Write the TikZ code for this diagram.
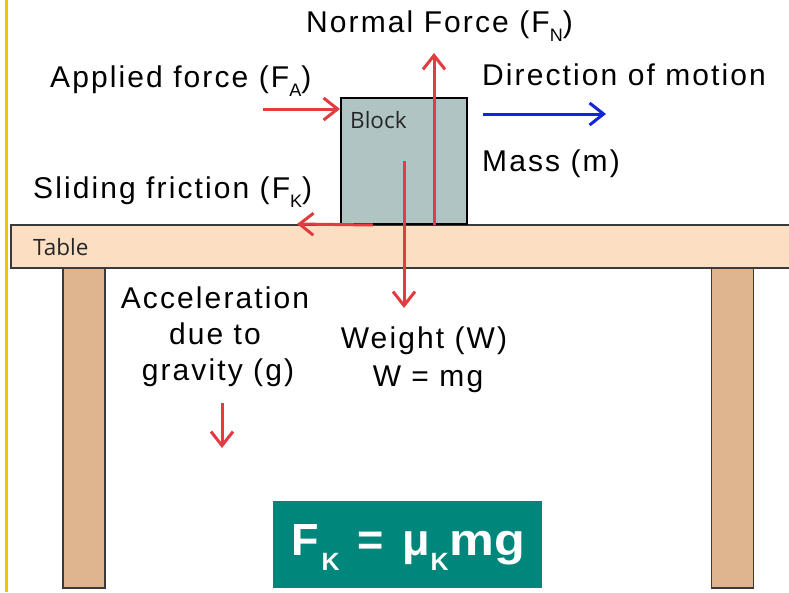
\documentclass[tikz,border=0pt]{standalone}
\usepackage{graphicx}
\usepackage{fontspec}
\setmainfont{Liberation Sans}
\newfontfamily\labfont[LetterSpace=7]{Liberation Sans}
\newfontfamily\smallfont{Open Sans}
\usetikzlibrary{arrows.meta}
\definecolor{arrred}{HTML}{E23B40}
\definecolor{arrblue}{HTML}{1424DC}
\definecolor{tabletop}{HTML}{FCDFC2}
\definecolor{legcol}{HTML}{DEB58E}
\definecolor{blockcol}{HTML}{AFC4C3}
\definecolor{formcol}{HTML}{00867A}
\definecolor{framecol}{HTML}{FFC000}
\definecolor{edgecol}{HTML}{3A3A3A}
\newcommand\subl[1]{\raisebox{-9pt}{\fontsize{18}{18}\selectfont #1}}
\newcommand\subf[1]{\raisebox{-15pt}{\fontsize{25}{25}\selectfont #1}}
\begin{document}
\begin{tikzpicture}[x=1pt,y=-1pt,
  lbl/.style={inner sep=0pt, font=\labfont\fontsize{30}{36}\selectfont, text=black},
  sml/.style={inner sep=0pt, font=\smallfont\fontsize{22.5}{26}\selectfont, text=black!85},
  redarrow/.style={draw=arrred, line width=3pt, -{Straight Barb[length=14pt,width=22pt,line width=3pt]}},
  bluearrow/.style={draw=arrblue, line width=3pt, -{Straight Barb[length=14pt,width=22pt,line width=3pt]}},
  leg/.style={draw=edgecol, line width=1.2pt, fill=legcol, inner sep=0pt, minimum width=42pt, minimum height=322pt},
]
\useasboundingbox (0,0) rectangle (789,592);
\fill[white] (0,0) rectangle (789,592);
\draw[framecol, line width=3pt] (6,0) -- (6,592);

% legs
\node[leg] (legL) at (84,427) {};
\node[leg] (legR) at (732.5,427) {};

% table top
\fill[tabletop] (11,225) rectangle (795,268);
\draw[edgecol, line width=1.2pt] (795,225) -- (11,225) -- (11,268) -- (795,268);
\node[sml, anchor=base west] (tablelbl) at (33,255) {Table};

% block
\node[draw=black, line width=2pt, fill=blockcol, minimum width=126pt, minimum height=126pt, inner sep=0pt] (block) at (404,161) {};
\node[sml, anchor=base west] (blocklbl) at (350,128) {Block};

% free arrow ends
\coordinate (fa) at (263,109);
\coordinate (fn) at (434,53);
\coordinate (fk) at (297,224);
\coordinate (fw) at (404,308);
\coordinate (m1) at (483,114);
\coordinate (m2) at (606,114);
\coordinate (g1) at (222,403);
\coordinate (g2) at (222,448);

% arrows
\draw[redarrow] (fa) -- ([yshift=52pt]block.west);
\draw[redarrow] ([xshift=30pt]block.south) -- (fn);
\draw[redarrow] ([xshift=-31pt]block.south) -- (fk);
\draw[redarrow] (block.center) -- (fw);
\draw[bluearrow] (m1) -- (m2);
\draw[redarrow] (g1) -- (g2);

% labels
\node[lbl, anchor=base west] (nlbl) at (306,32) {Normal Force (F\subl{N})};
\node[lbl, anchor=base west] (albl) at (50,87) {Applied force (F\subl{A})};
\node[lbl, anchor=base west] (dlbl) at (482,85) {Direction of motion};
\node[lbl, anchor=base west] (mlbl) at (482,171) {Mass (m)};
\node[lbl, anchor=base west] (slbl) at (33,198) {Sliding friction (F\subl{K})};

\node[lbl, anchor=base] (acc1) at (215,308) {Acceleration};
\node[lbl, anchor=base] (acc2) at (215,344) {due to};
\node[lbl, anchor=base] (acc3) at (218,380) {gravity (g)};

\node[lbl, anchor=base] (w1) at (424,348) {Weight (W)};
\node[lbl, anchor=base] (w2) at (428,386) {W = mg};

% formula
\node[fill=formcol, minimum width=269pt, minimum height=87pt, inner sep=0pt] (formbox) at (407.5,544.5) {};
\node[inner sep=0pt, anchor=base west, text=white, font=\bfseries\fontsize{45}{50}\selectfont] (formula) at (291,555) {F\hspace{3pt}\subf{K}\hspace{18pt}=\hspace{18pt}μ\hspace{1pt}\subf{K}\hspace{1pt}\scalebox{1.12}[1]{mg}};
\end{tikzpicture}
\end{document}
